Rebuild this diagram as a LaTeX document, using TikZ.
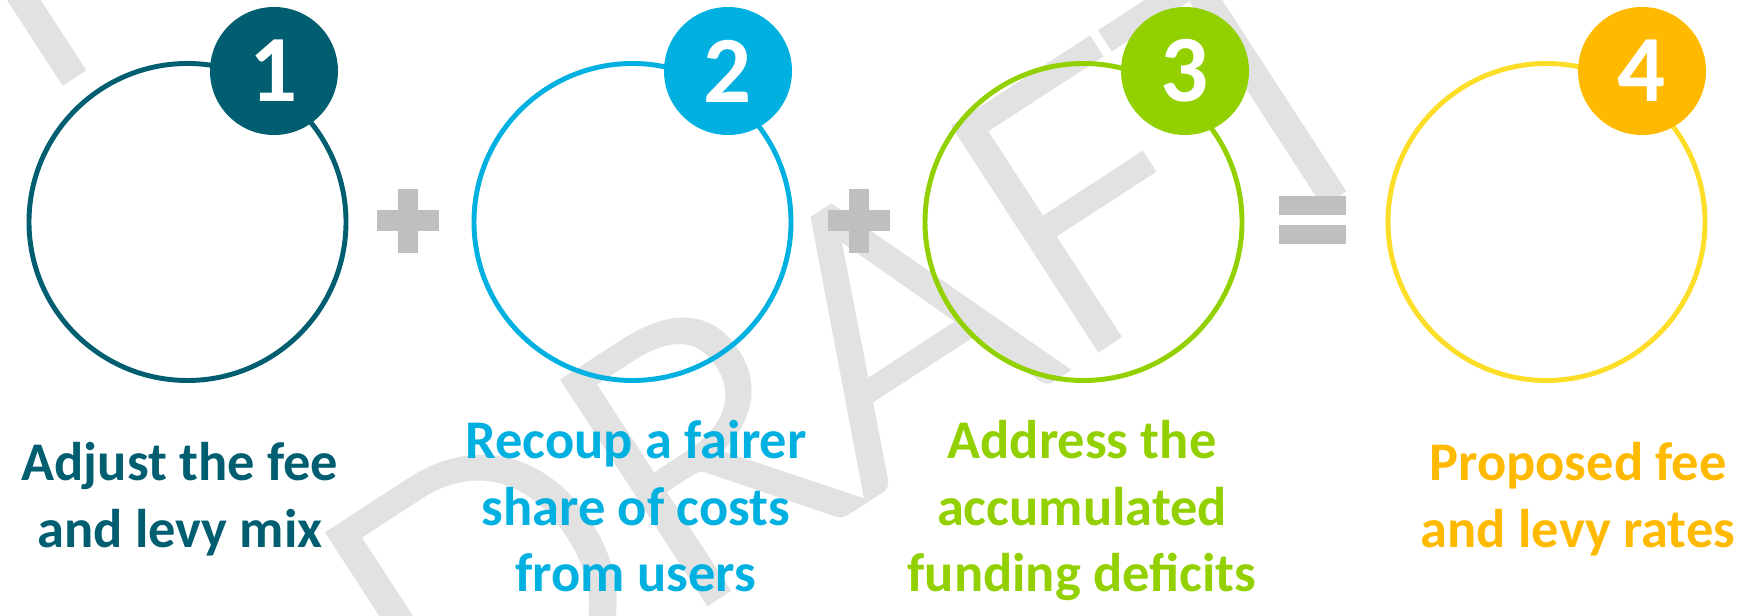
\documentclass[tikz,border=0pt]{standalone}
\usepackage{fontspec}
\setmainfont{Carlito}
\newfontfamily\wmfont[FakeBold=2.5]{Lato Light}

\definecolor{colone}{RGB}{0,94,112}
\definecolor{coltwo}{RGB}{0,176,224}
\definecolor{colthree}{RGB}{146,208,0}
\definecolor{colfour}{RGB}{255,186,0}
\definecolor{ringfour}{RGB}{252,222,40}
\definecolor{opgray}{RGB}{191,191,191}
\definecolor{wmgray}{RGB}{226,226,226}

\tikzset{
	ring/.style={circle, draw, line width=1.4pt, minimum size=3.17cm, inner sep=0pt},
	badge/.style={circle, minimum size=1.28cm, inner sep=0pt, text=white, font=\fontsize{27}{27}\selectfont\bfseries},
	steptext/.style={align=center, anchor=north, inner sep=0pt, font=\fontsize{15.5}{18.8}\selectfont\bfseries},
	opbar/.style={fill=opgray, draw=none},
	wmark/.style={rotate=33, text=wmgray, inner sep=0pt, font=\fontsize{105}{105}\wmfont}
}

\begin{document}
\begin{tikzpicture}
			%%%%% START %%%%%
			\useasboundingbox[fill=white] (0, 0) rectangle (17.47, 6.15);
			
			% watermark behind everything
			\begin{scope}
				\clip (0, 0) rectangle (17.47, 6.15);
				\node[wmark] (wm) at (8.60, 2.69) {DRAFT};
				\node[wmark] (wmtop) at (-4.00, 3.90) {DRAFT};
			\end{scope}
			
			% rings
			\node[ring, draw=colone] (ring1) at (1.875, 3.93) {};
			\node[ring, draw=coltwo] (ring2) at (6.325, 3.93) {};
			\node[ring, draw=colthree] (ring3) at (10.835, 3.93) {};
			\node[ring, draw=ringfour] (ring4) at (15.465, 3.93) {};
			
			% number badges
			\node[badge, fill=colone] (num1) at (2.74, 5.44) {1};
			\node[badge, fill=coltwo] (num2) at (7.28, 5.44) {2};
			\node[badge, fill=colthree] (num3) at (11.85, 5.44) {3};
			\node[badge, fill=colfour] (num4) at (16.42, 5.44) {4};
			
			% plus, plus, equals
			\fill[opbar] (3.77, 3.84) rectangle (4.39, 4.05);
			\fill[opbar] (3.98, 3.62) rectangle (4.18, 4.26);
			\fill[opbar] (8.28, 3.84) rectangle (8.90, 4.05);
			\fill[opbar] (8.49, 3.62) rectangle (8.69, 4.26);
			\fill[opbar] (12.79, 4.00) rectangle (13.46, 4.19);
			\fill[opbar] (12.79, 3.71) rectangle (13.46, 3.90);
			
			% captions
			\node[steptext, text=colone] (txt1) at (1.80, 1.73) {Adjust the fee\\and levy mix};
			\node[steptext, text=coltwo] (txt2) at (6.36, 1.95) {Recoup a fairer\\share of costs\\from users};
			\node[steptext, text=colthree] (txt3) at (10.82, 1.95) {Address the\\accumulated\\funding deficits};
			\node[steptext, text=colfour] (txt4) at (15.78, 1.73) {Proposed fee\\and levy rates};
			%%%%% END %%%%%
\end{tikzpicture}
\end{document}
